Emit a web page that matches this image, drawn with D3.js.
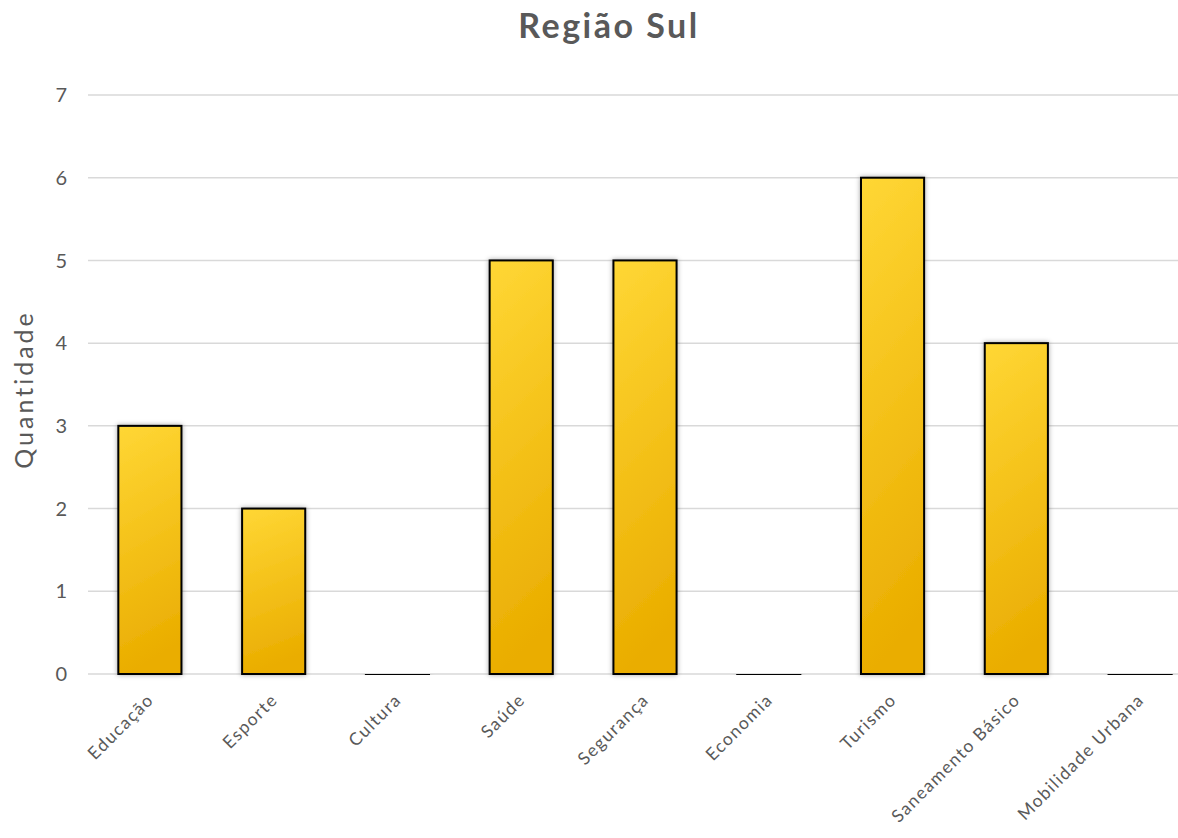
<!DOCTYPE html>
<html><head><meta charset="utf-8">
<script src="https://cdn.jsdelivr.net/npm/d3@7"></script>
<style>body{margin:0;background:#fff;}svg{display:block;font-family:"Lato","Noto Sans",sans-serif;}</style>
</head><body><svg id="c" width="1178" height="838"></svg>
<script>
const categories = ["Educação","Esporte","Cultura","Saúde","Segurança","Economia","Turismo","Saneamento Básico","Mobilidade Urbana"];
const values = [3,2,0,5,5,0,6,4,0];
const yTicks = [0,1,2,3,4,5,6,7];
const title = "Região Sul";
const yLabel = "Quantidade";

const svg = d3.select("#c");
const W = 1178, H = 838;
const plotLeft = 88, plotRight = 1202, plotTop = 95, plotBottom = 674;
const x = d3.scaleBand().domain(categories).range([plotLeft, plotRight]).paddingInner(0.49).paddingOuter(0.245);
const y = d3.scaleLinear().domain([0,7]).range([plotBottom, plotTop]);

const defs = svg.append("defs");
const g = defs.append("linearGradient").attr("id","gold").attr("x1","0").attr("y1","0").attr("x2","0.15").attr("y2","1");
g.append("stop").attr("offset","0").attr("stop-color","#FFD735");
g.append("stop").attr("offset","1").attr("stop-color","#EAAD00");
const f = defs.append("filter").attr("id","sh").attr("x","-20%").attr("y","-5%").attr("width","140%").attr("height","110%");
f.append("feDropShadow").attr("dx",0).attr("dy",0).attr("stdDeviation",2.5).attr("flood-color","#000").attr("flood-opacity",0.35);

// gridlines
svg.append("g").selectAll("line").data(yTicks).join("line")
  .attr("x1",plotLeft).attr("x2",W)
  .attr("y1",d=>y(d)).attr("y2",d=>y(d))
  .attr("stroke","#d9d9d9").attr("stroke-width",1.5);

// y tick labels
svg.append("g").selectAll("text").data(yTicks).join("text")
  .attr("x",67).attr("y",d=>y(d)).attr("dy","0.36em")
  .attr("text-anchor","end").attr("fill","#595959").attr("font-size",20).text(d=>d);

// bars
svg.append("g").selectAll("rect").data(values).join("rect")
  .attr("x",(d,i)=>x(categories[i])).attr("width",x.bandwidth())
  .attr("y",d=>y(d)).attr("height",d=>Math.max(0.01,y(0)-y(d)))
  .attr("fill","url(#gold)").attr("stroke","#000").attr("stroke-width",2)
  .attr("filter","url(#sh)");

// x labels
svg.append("g").selectAll("text").data(categories).join("text")
  .attr("transform",d=>`translate(${x(d)+x.bandwidth()/2+5},${y(0)+27}) rotate(-45)`)
  .attr("text-anchor","end").attr("fill","#595959").attr("font-size",17.5)
  .attr("letter-spacing","1.4px").text(d=>d);

// y axis label
svg.append("text").attr("transform",`translate(33,${(y(0)+y(7))/2+5}) rotate(-90)`)
  .attr("text-anchor","middle").attr("fill","#595959").attr("font-size",25)
  .attr("letter-spacing","3px").text(yLabel);

// title
svg.append("text").attr("x",609).attr("y",38).attr("text-anchor","middle")
  .attr("fill","#595959").attr("font-size",34).attr("font-weight","bold")
  .attr("letter-spacing","2.5px").text(title);
</script></body></html>
